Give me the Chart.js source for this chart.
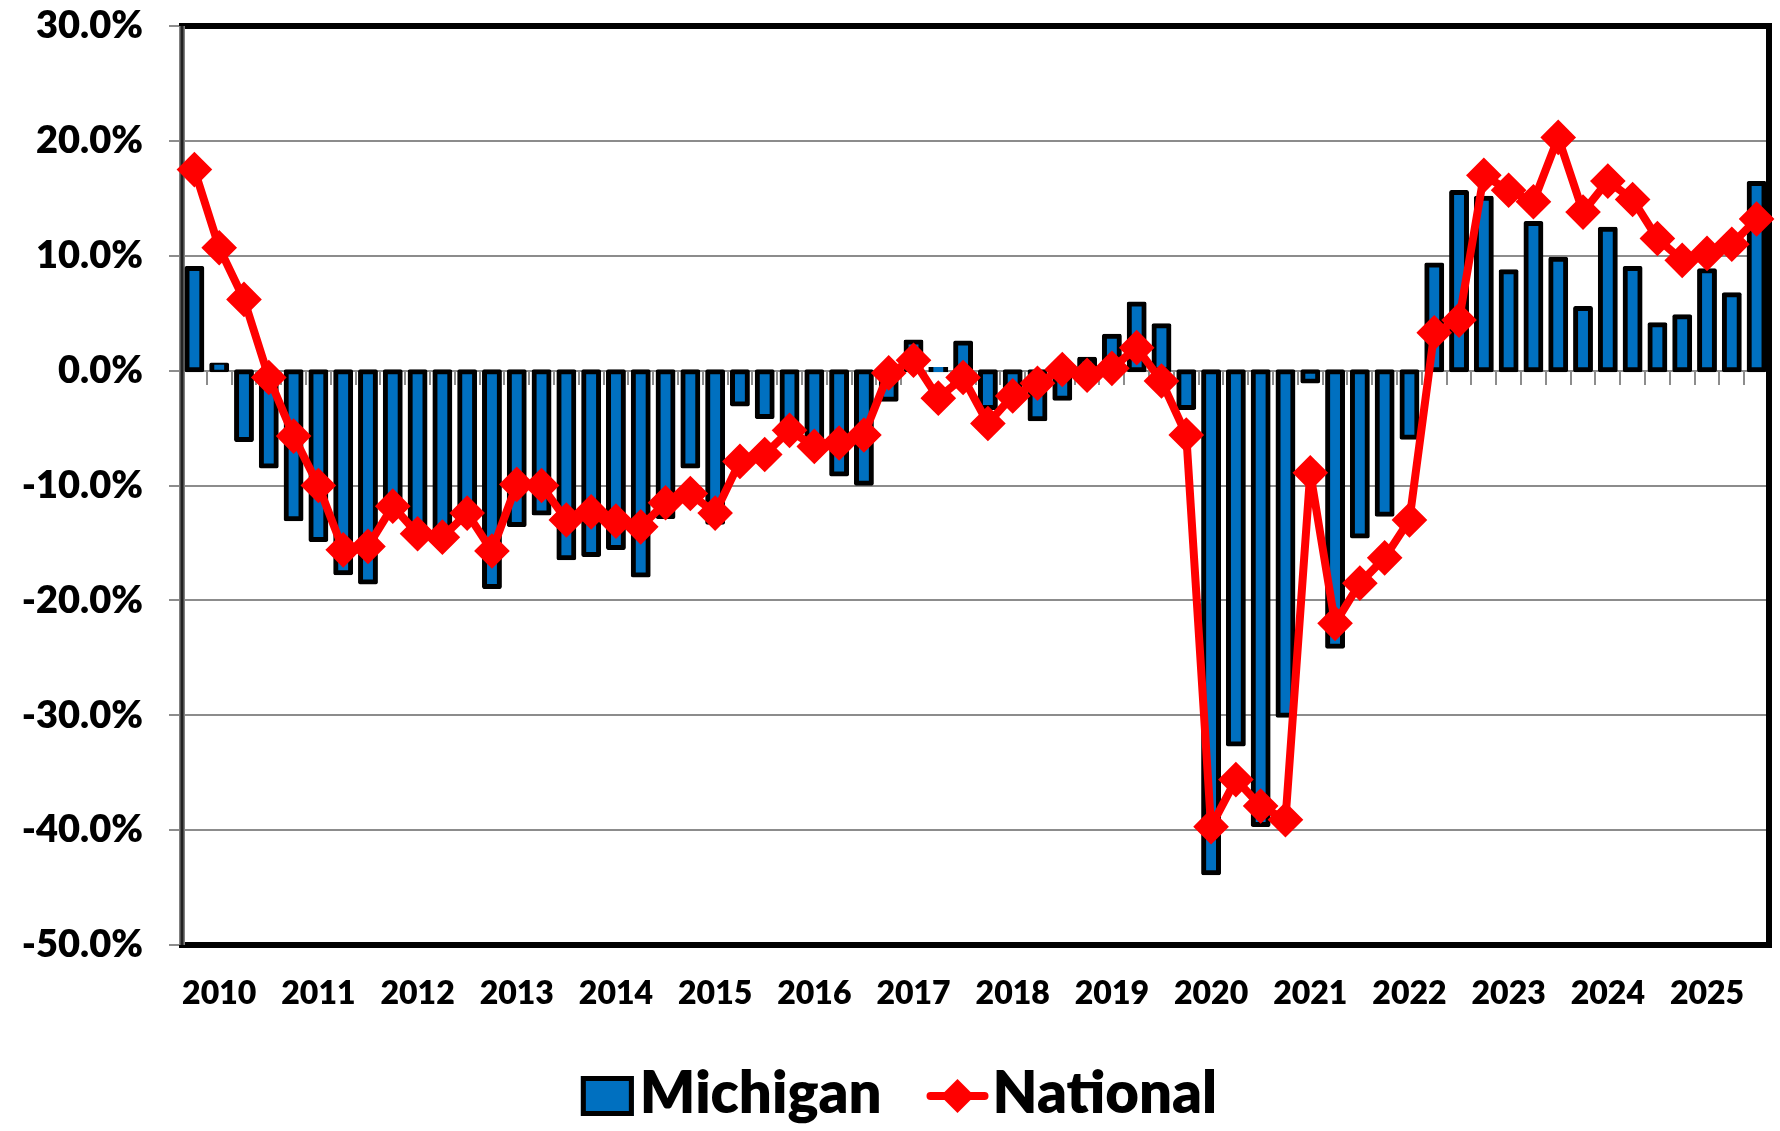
<!DOCTYPE html>
<html>
<head>
<meta charset="utf-8">
<script src="https://cdn.jsdelivr.net/npm/chart.js@4.4.1/dist/chart.umd.min.js"></script>
<style>
  html, body { margin: 0; padding: 0; background: #fff; }
  #wrap { width: 1780px; height: 1131px; }
</style>
</head>
<body>
<div id="wrap"><canvas id="chart" width="1780" height="1131"></canvas></div>
<script>
// === Data ===
const years = [2010, 2011, 2012, 2013, 2014, 2015, 2016, 2017,
               2018, 2019, 2020, 2021, 2022, 2023, 2024, 2025];
const quarterNames = ["Q1", "Q2", "Q3", "Q4"];
const quarters = years.flatMap(y => quarterNames.map(q => y + " " + q));

// Michigan, % change (bars)
const michigan = [
   8.9,   0.5,  -6.0,  -8.3,
 -12.9, -14.7, -17.6, -18.4,
 -12.0, -14.0, -14.5, -12.5,
 -18.8, -13.4, -12.4, -16.3,
 -16.0, -15.4, -17.8, -12.7,
  -8.3, -13.2,  -2.9,  -4.0,
  -4.5,  -6.0,  -9.0,  -9.8,
  -2.5,   2.5,   0.1,   2.4,
  -3.2,  -2.0,  -4.2,  -2.4,
   1.0,   3.0,   5.8,   3.9,
  -3.2, -43.7, -32.5, -39.5,
 -30.0,  -0.9, -24.0, -14.4,
 -12.5,  -5.8,   9.2,  15.5,
  15.0,   8.6,  12.8,   9.7,
   5.4,  12.3,   8.9,   4.0,
   4.7,   8.7,   6.6,  16.3
];

// National, % change (line)
const national = [
  17.5,  10.7,   6.2,  -0.6,
  -5.7, -10.0, -15.6, -15.3,
 -11.8, -14.2, -14.5, -12.4,
 -15.7,  -9.9, -10.0, -13.0,
 -12.3, -13.1, -13.6, -11.5,
 -10.7, -12.4,  -7.9,  -7.3,
  -5.2,  -6.6,  -6.3,  -5.6,
  -0.2,   0.9,  -2.4,  -0.6,
  -4.6,  -2.2,  -1.1,   0.1,
  -0.4,   0.2,   2.0,  -0.9,
  -5.6, -39.7, -35.6, -37.9,
 -39.1,  -8.9, -22.0, -18.5,
 -16.3, -13.0,   3.3,   4.4,
  17.0,  15.7,  14.7,  20.3,
  13.8,  16.5,  14.9,  11.5,
   9.6,  10.2,  11.0,  13.2
];

const yMin = -50;
const yMax = 30;
const yStep = 10;

const FONT = "Lato";
const WEIGHT = "800";
const BLUE = "#0070C0";
const RED = "#FF0000";
const GRID = "#8c8c8c";

// year label sits under the 2nd quarter of each year
function yearTick(value, index) {
    return index % 4 === 1 ? quarters[index].slice(0, 4) : "";
}

// keep the tick labels from pushing the plot area around
function noScalePadding(s) {
    s.paddingTop = 0;
    s.paddingBottom = 0;
    s.paddingLeft = 0;
    s.paddingRight = 0;
}

// === Plugins ===
const whiteBg = {
    id: "whiteBg",
    beforeDraw(chart) {
        const ctx = chart.ctx;
        ctx.save();
        ctx.fillStyle = "#fff";
        ctx.fillRect(0, 0, chart.width, chart.height);
        ctx.restore();
    }
};

const plotFrame = {
    id: "plotFrame",
    beforeDatasetsDraw(chart) {
        const { ctx, chartArea: a } = chart;
        ctx.save();
        ctx.lineCap = "square";
        ctx.strokeStyle = "#000";
        ctx.lineWidth = 6;
        ctx.beginPath();
        ctx.moveTo(a.left, a.top);
        ctx.lineTo(a.right, a.top);
        ctx.lineTo(a.right, a.bottom);
        ctx.lineTo(a.left, a.bottom);
        ctx.stroke();
        // left value axis
        ctx.lineCap = "butt";
        ctx.strokeStyle = "#808080";
        ctx.lineWidth = 6;
        ctx.beginPath();
        ctx.moveTo(a.left, a.top);
        ctx.lineTo(a.left, a.bottom);
        ctx.stroke();
        ctx.strokeStyle = "#222";
        ctx.lineWidth = 3;
        ctx.stroke();
        ctx.restore();
    }
};

const bottomLegend = {
    id: "bottomLegend",
    afterDraw(chart) {
        const ctx = chart.ctx;
        const bar = chart.data.datasets[1];
        const line = chart.data.datasets[0];
        ctx.save();
        ctx.font = WEIGHT + " 58px " + FONT;
        ctx.textBaseline = "alphabetic";
        ctx.fillStyle = "#000";
        const w1 = ctx.measureText(bar.label).width;
        const w2 = ctx.measureText(line.label).width;
        const boxW = 53, boxH = 40, lineW = 60;
        const total = boxW + 6 + w1 + 46 + lineW + 5 + w2;
        let x = 899 - total / 2;
        const cy = 1096, base = 1113;

        // Michigan swatch
        ctx.fillStyle = bar.backgroundColor;
        ctx.fillRect(x, cy - boxH / 2, boxW, boxH);
        ctx.strokeStyle = bar.borderColor;
        ctx.lineWidth = 5;
        ctx.strokeRect(x + 2.5, cy - boxH / 2 + 2.5, boxW - 5, boxH - 5);
        x += boxW + 6;
        ctx.fillStyle = "#000";
        ctx.fillText(bar.label, x, base);
        x += w1 + 46;

        // National swatch
        ctx.strokeStyle = line.borderColor;
        ctx.lineWidth = 8;
        ctx.lineCap = "round";
        ctx.beginPath();
        ctx.moveTo(x + 3, cy);
        ctx.lineTo(x + lineW - 3, cy);
        ctx.stroke();
        const mx = x + lineW / 2, r = 17;
        ctx.fillStyle = line.borderColor;
        ctx.beginPath();
        ctx.moveTo(mx - r, cy);
        ctx.lineTo(mx, cy - r);
        ctx.lineTo(mx + r, cy);
        ctx.lineTo(mx, cy + r);
        ctx.closePath();
        ctx.fill();
        x += lineW + 5;
        ctx.fillStyle = "#000";
        ctx.fillText(line.label, x, base);
        ctx.restore();
    }
};

// === Chart ===
new Chart(document.getElementById("chart"), {
    data: {
        labels: quarters,
        datasets: [
            {
                type: "line",
                label: "National",
                data: national,
                xAxisID: "x",
                order: 0,
                borderColor: RED,
                backgroundColor: RED,
                borderWidth: 8,
                borderJoinStyle: "round",
                tension: 0,
                pointStyle: "rectRot",
                pointRadius: 15,
                pointBorderWidth: 4,
                pointBackgroundColor: RED,
                pointBorderColor: RED,
                clip: false,
            },
            {
                type: "bar",
                label: "Michigan",
                data: michigan,
                xAxisID: "x",
                order: 1,
                backgroundColor: BLUE,
                borderColor: "#000",
                borderWidth: 5,
                borderSkipped: false,
                borderRadius: 2,
                // centre the outline on the bar edge, like the original
                inflateAmount: 2.5,
                barPercentage: 0.6,
                categoryPercentage: 1.0,
            },
        ],
    },
    options: {
        responsive: false,
        animation: false,
        events: [],
        layout: {
            autoPadding: false,
            padding: { top: 26, right: 11, bottom: 0, left: 0 },
        },
        plugins: {
            legend: { display: false },
            tooltip: { enabled: false },
        },
        scales: {
            x: {
                type: "category",
                position: "bottom",
                offset: true,
                grid: { display: false, drawTicks: true, tickLength: 17 },
                border: { display: false },
                ticks: {
                    autoSkip: false,
                    maxRotation: 0,
                    minRotation: 0,
                    padding: 12,
                    color: "#000",
                    font: { family: FONT, size: 32, weight: WEIGHT },
                    callback: yearTick,
                },
                afterFit: s => { s.height = 186; noScalePadding(s); },
            },
            xZero: {
                type: "category",
                axis: "x",
                position: { y: 0 },
                offset: true,
                grid: {
                    display: true,
                    offset: true,
                    drawOnChartArea: false,
                    drawTicks: true,
                    tickLength: 13,
                    color: GRID,
                    lineWidth: 2,
                },
                border: { display: true, color: GRID, width: 2 },
                ticks: { display: false },
                afterFit: noScalePadding,
            },
            y: {
                min: yMin,
                max: yMax,
                grid: {
                    color: GRID,
                    lineWidth: 2,
                    tickLength: 13,
                    tickColor: GRID,
                },
                border: { display: false },
                ticks: {
                    stepSize: yStep,
                    padding: 26,
                    color: "#000",
                    font: { family: FONT, size: 38, weight: WEIGHT },
                    callback: v => v.toFixed(1) + "%",
                },
                afterFit: s => { s.width = 182; noScalePadding(s); },
            },
        },
    },
    plugins: [whiteBg, plotFrame, bottomLegend],
});
</script>
</body>
</html>
